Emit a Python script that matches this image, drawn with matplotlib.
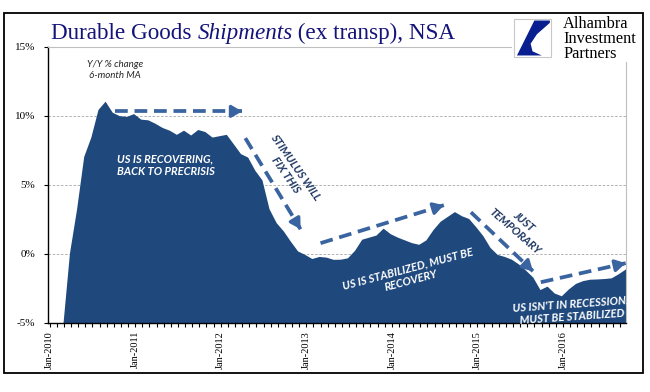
import numpy as np
import matplotlib
matplotlib.use('Agg')
import matplotlib.pyplot as plt
from matplotlib.patches import Rectangle, Polygon

# 6-month MA of Y/Y % change, monthly from Jan-2010 to Sep-2016
values = [-13.0, -5.6, 0.0, 3.2, 7.0, 8.4, 10.4, 11.0, 10.2, 9.95,
          9.9, 10.1, 9.7, 9.65, 9.4, 9.1, 8.9, 8.6, 8.9, 8.55,
          8.95, 8.8, 8.4, 8.5, 8.6, 7.9, 7.2, 6.95, 6.0, 5.3,
          3.2, 2.2, 1.6, 0.85, 0.15, -0.1, -0.4, -0.25, -0.3, -0.46,
          -0.45, -0.35, 0.2, 1.0, 1.15, 1.3, 1.8, 1.4, 1.15, 0.95,
          0.75, 0.63, 0.95, 1.7, 2.3, 2.65, 3.0, 2.7, 2.5, 1.9,
          1.25, 0.4, -0.1, -0.25, -0.45, -0.8, -1.25, -1.75, -2.65, -2.4,
          -2.9, -3.1, -2.6, -2.2, -2.0, -1.9, -1.88, -1.85, -1.8, -1.5,
          -1.15]
year_labels = ['Jan-2010', 'Jan-2011', 'Jan-2012', 'Jan-2013',
               'Jan-2014', 'Jan-2015', 'Jan-2016']
y_ticks = [-5, 0, 5, 10, 15]

W, H = 650, 392
fig = plt.figure(figsize=(W / 100, H / 100), dpi=100)

def fx(px):
    return px / W

def fy(py):
    return 1 - py / H

ax = fig.add_axes([fx(47.5), fy(322.5), fx(626) - fx(47.5), fy(46.5) - fy(322.5)])

# month-end positions, Jan-2010 tick at 0
x = np.arange(len(values)) + 0.85
ax.fill_between(x, values, -30, color='#1F497D', linewidth=0)

ax.set_xlim(-0.3, 80.85)
ax.set_ylim(-5, 15)

ax.set_yticks(y_ticks)
ax.set_yticklabels([f'{t}%' for t in y_ticks], family='Liberation Serif', fontsize=8)
ax.set_xticks(np.arange(0, 73, 12))
ax.set_xticklabels(year_labels, rotation=90, family='Liberation Serif', fontsize=7.5)
ax.set_xticks(np.arange(0, 81), minor=True)
ax.tick_params(axis='y', length=3, width=0.8, pad=6)
ax.tick_params(axis='x', which='both', length=3, width=0.8, pad=3)

for v in [0, 5, 10]:
    ax.axhline(v, color='#a6a6a6', linewidth=0.6, linestyle=(0, (3, 2)), zorder=0)

for s in ['top', 'right']:
    ax.spines[s].set_color('#bfbfbf')
    ax.spines[s].set_linewidth(0.8)
for s in ['left', 'bottom']:
    ax.spines[s].set_linewidth(1.0)

arrow_col = '#3A64A0'
def dashed_arrow(p0, p1):
    p0 = np.array(p0); p1 = np.array(p1)
    ax.plot([p0[0], p1[0]], [p0[1], p1[1]], color=arrow_col, linewidth=2.7,
            linestyle=(0, (3.4, 1.8)), solid_capstyle='butt', zorder=5)
    d = p1 - p0
    ax.annotate('', xy=p1, xytext=p1 - d * 0.04,
                arrowprops=dict(arrowstyle='-|>,head_length=0.6,head_width=0.35',
                                color=arrow_col, linewidth=2.4, shrinkA=0, shrinkB=0),
                zorder=6)

dashed_arrow((9.2, 10.3), (27.0, 10.3))
dashed_arrow((27.45, 8.36), (35.2, 1.76))
dashed_arrow((38.0, 0.75), (55.3, 3.5))
dashed_arrow((59.1, 2.99), (67.8, -1.28))
dashed_arrow((68.9, -2.08), (80.8, -0.70))

ann = dict(family='Lato', style='italic', weight='bold', fontsize=8, linespacing=1.2)
ax.text(9.5, 6.43, 'US IS RECOVERING,\nBACK TO PRECRISIS', color='white',
        ha='left', va='center', **ann)
ax.text(33.8, 5.96, 'STIMULUS WILL\nFIX THIS', color='#1F3864', rotation=-55,
        ha='center', va='center', rotation_mode='anchor', **ann)
ax.text(50.4, -1.52, 'US IS STABILIZED, MUST BE\nRECOVERY', color='white', rotation=15,
        ha='center', va='center', rotation_mode='anchor', **ann)
ax.text(65.9, 1.98, 'JUST\nTEMPORARY', color='#1F3864', rotation=-41,
        ha='center', va='center', rotation_mode='anchor', **ann)
ax.text(73.2, -4.13, "US ISN'T IN RECESSION,\nMUST BE STABILIZED", color='white', rotation=4,
        ha='center', va='center', rotation_mode='anchor', **ann)
ax.text(9.2, 13.28, 'Y/Y % change\n6-month MA', color='#262626', ha='center', va='center',
        family='Lato', style='italic', fontsize=7, linespacing=1.25)

# title, with the italic word
title_col = '#14137A'
renderer = fig.canvas.get_renderer()
xpos = fx(51)
for part, st in [('Durable Goods ', 'normal'), ('Shipments', 'italic'),
                 (' (ex transp), NSA', 'normal')]:
    t = fig.text(xpos, fy(39), part, color=title_col, family='Liberation Serif',
                 style=st, fontsize=16.7, ha='left', va='baseline')
    bb = t.get_window_extent(renderer)
    xpos = bb.x1 / W

# logo
fig.patches.append(Rectangle((fx(512), fy(62)), fx(645) - fx(512), fy(14) - fy(62),
                             transform=fig.transFigure, facecolor='white',
                             edgecolor='none', zorder=10))
fig.patches.append(Rectangle((fx(514), fy(57)), fx(551) - fx(514), fy(19) - fy(57),
                             transform=fig.transFigure, facecolor='white',
                             edgecolor='#c8c8c8', linewidth=0.8, zorder=11))
bx0, bx1, by0, by1 = 514, 551, 57, 19
def bpt(u, v):
    return (fx(bx0 + u * (bx1 - bx0)), fy(by0 - v * (by0 - by1)))
swoosh = [bpt(0.55, 0.96), bpt(0.97, 0.96), bpt(0.97, 0.9), bpt(0.62, 0.6),
          bpt(0.45, 0.35), bpt(0.5, 0.15), bpt(0.75, 0.04), bpt(0.08, 0.04)]
fig.patches.append(Polygon(swoosh, closed=True, transform=fig.transFigure,
                           facecolor='#0A1F8F', edgecolor='none', zorder=12))
fig.text(fx(563), fy(39), 'Alhambra\nInvestment\nPartners', family='Liberation Serif',
         fontsize=11.8, ha='left', va='center', color='black', linespacing=0.88, zorder=13)

# outer frame
fig.patches.append(Rectangle((fx(4), fy(373)), fx(643) - fx(4), fy(13) - fy(373),
                             transform=fig.transFigure, facecolor='none',
                             edgecolor='black', linewidth=1.3, zorder=20))

fig.savefig('out.png', dpi=100)
